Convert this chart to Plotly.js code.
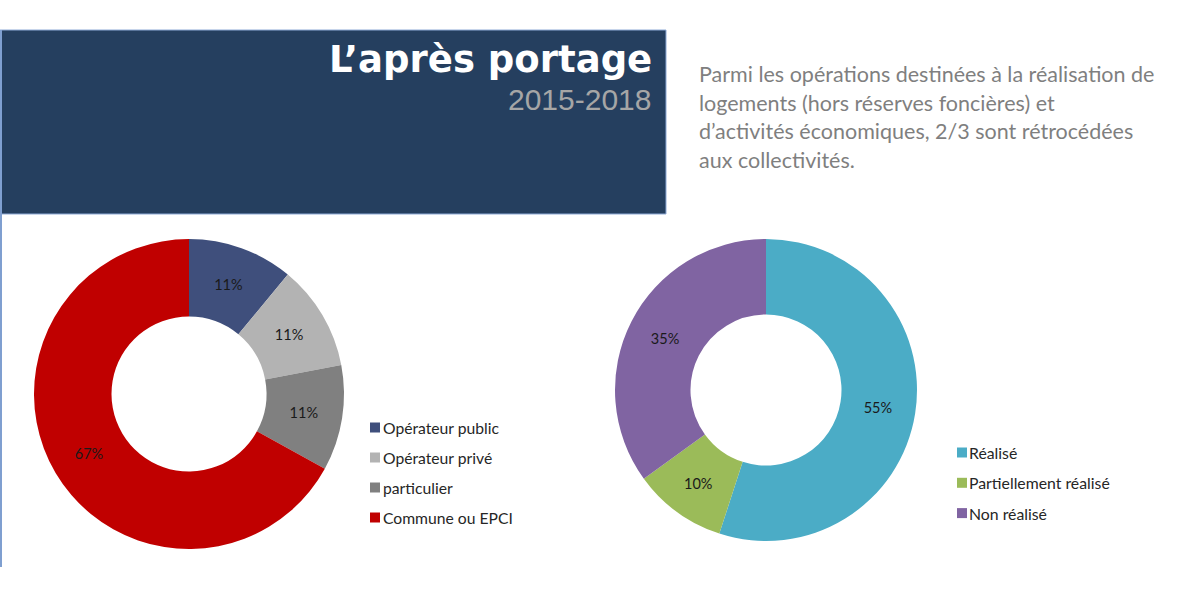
<!DOCTYPE html>
<html>
<head>
<meta charset="utf-8">
<script src="https://cdn.plot.ly/plotly-3.0.1.min.js"></script>
<style>html,body{margin:0;padding:0;background:#fff;}#chart{width:1200px;height:600px;}</style>
</head>
<body>
<div id="chart"></div>
<script>
// ---- Data ----
var titleText = "L’après portage";
var periodText = "2015-2018";
var introLines = [
  "Parmi les opérations destinées à la réalisation de",
  "logements (hors réserves foncières) et",
  "d’activités économiques, 2/3 sont rétrocédées",
  "aux collectivités."
];
var buyerLabels = ["Opérateur public", "Opérateur privé", "particulier", "Commune ou EPCI"];
var buyerValues = [11, 11, 11, 67];
var buyerColors = ["#3f4f7c", "#b3b3b3", "#808080", "#c00000"];

var statusLabels = ["Réalisé", "Partiellement réalisé", "Non réalisé"];
var statusValues = [55, 10, 35];
var statusColors = ["#4bacc6", "#9bbb59", "#8064a2"];

// ---- helpers: pixel -> paper ----
var W = 1200, H = 600;
function px(x) { return x / W; }
function py(y) { return 1 - y / H; }

var textFont = "Lato, 'Open Sans', sans-serif";

var traces = [
  {
    type: "pie",
    labels: buyerLabels,
    values: buyerValues,
    marker: { colors: buyerColors, line: { width: 0 } },
    hole: 0.5,
    sort: false,
    direction: "clockwise",
    rotation: 0,
    textinfo: "percent",
    texttemplate: "%{percent:.0%}",
    textposition: "inside",
    insidetextorientation: "horizontal",
    textfont: { family: textFont, size: 14.5, color: "#1a1a1a" },
    showlegend: false,
    domain: { x: [px(34), px(344)], y: [py(549), py(239)] }
  },
  {
    type: "pie",
    labels: statusLabels,
    values: statusValues,
    marker: { colors: statusColors, line: { width: 0 } },
    hole: 0.5,
    sort: false,
    direction: "clockwise",
    rotation: 0,
    textinfo: "percent",
    texttemplate: "%{percent:.0%}",
    textposition: "inside",
    insidetextorientation: "horizontal",
    textfont: { family: textFont, size: 14.5, color: "#1a1a1a" },
    showlegend: false,
    domain: { x: [px(615), px(917)], y: [py(541), py(239)] }
  }
];

var shapes = [
  // banner
  { type: "rect", xref: "paper", yref: "paper", x0: px(0), x1: px(666), y0: py(214), y1: py(30),
    fillcolor: "#253f5f", line: { width: 1, color: "#8eaad6" }, layer: "below" },
  // left border line
  { type: "line", xref: "paper", yref: "paper", x0: px(1), x1: px(1), y0: py(567), y1: py(30),
    line: { width: 2, color: "#7f9fd0" }, layer: "below" }
];

var annotations = [
  { xref: "paper", yref: "paper", x: px(654), y: py(60), xanchor: "right", yanchor: "middle",
    text: "<b>" + titleText + "</b>", showarrow: false,
    font: { family: "DejaVu Sans", size: 37, color: "#ffffff" } },
  { xref: "paper", yref: "paper", x: px(653), y: py(100), xanchor: "right", yanchor: "middle",
    text: periodText, showarrow: false,
    font: { family: "Liberation Sans, Arial", size: 30, color: "#a6a6a6" } }
];

var introY = [74, 102.5, 131, 159.5];
introLines.forEach(function (line, i) {
  annotations.push({ xref: "paper", yref: "paper", x: px(697), y: py(introY[i]), xanchor: "left", yanchor: "middle",
    text: line, showarrow: false, font: { family: textFont, size: 21.5, color: "#7f7f7f" } });
});

// manual legends (library shapes + annotations built from the label/colour arrays)
function addLegend(labels, colors, sqX, textX, yStart, gap, fs) {
  labels.forEach(function (lab, i) {
    var yc = yStart + i * gap;
    shapes.push({ type: "rect", xref: "paper", yref: "paper",
      x0: px(sqX), x1: px(sqX + 10), y0: py(yc + 5), y1: py(yc - 5),
      fillcolor: colors[i], line: { width: 0 } });
    annotations.push({ xref: "paper", yref: "paper", x: px(textX), y: py(yc), xanchor: "left", yanchor: "middle",
      text: lab, showarrow: false, font: { family: textFont, size: fs, color: "#262626" } });
  });
}
addLegend(buyerLabels, buyerColors, 370, 381, 427.5, 30, 15.7);
addLegend(statusLabels, statusColors, 957, 967, 452.5, 30.3, 15.8);

var layout = {
  width: W, height: H,
  margin: { l: 0, r: 0, t: 0, b: 0, pad: 0 },
  paper_bgcolor: "#ffffff",
  showlegend: false,
  shapes: shapes,
  annotations: annotations
};

Plotly.newPlot("chart", traces, layout, { displayModeBar: false, staticPlot: true });
</script>
</body>
</html>
